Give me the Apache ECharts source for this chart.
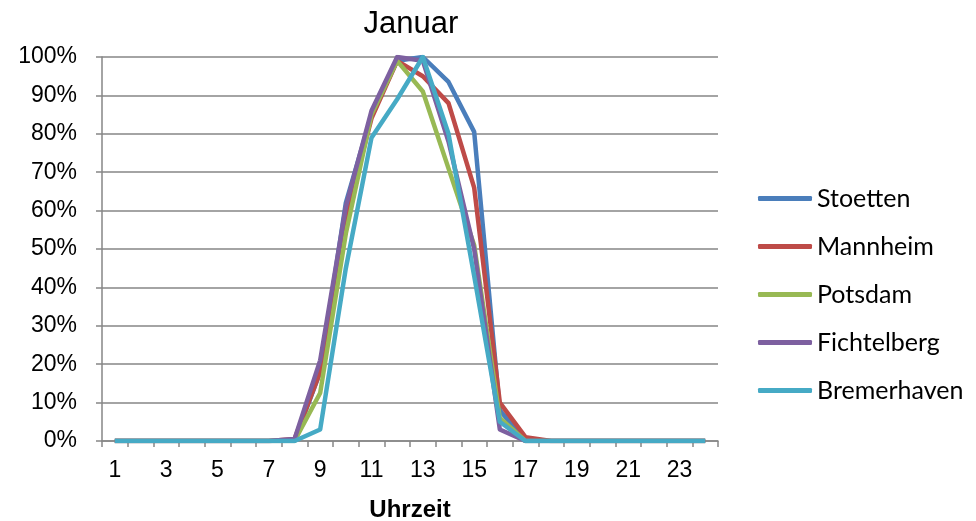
<!DOCTYPE html>
<html>
<head>
<meta charset="utf-8">
<script src="https://cdn.jsdelivr.net/npm/echarts@6/dist/echarts.min.js"></script>
<style>
html,body{margin:0;padding:0;background:#fff;}
#c{width:976px;height:521px;}
</style>
</head>
<body>
<div id="c"></div>
<script>
const hours = ['1','2','3','4','5','6','7','8','9','10','11','12','13','14','15','16','17','18','19','20','21','22','23','24'];
const stoetten    = [0,0,0,0,0,0,0,0,18,62,85,99,100,93.5,80.5,8,0,0,0,0,0,0,0,0];
const mannheim    = [0,0,0,0,0,0,0,0.5,18,58,84,99,95,88,66,10,1,0,0,0,0,0,0,0];
const potsdam     = [0,0,0,0,0,0,0,0,12.5,54,85,99,91,71,51,6,0,0,0,0,0,0,0,0];
const fichtelberg = [0,0,0,0,0,0,0,0.5,21,61,86,100,99,78,50,3,0,0,0,0,0,0,0,0];
const bremerhaven = [0,0,0,0,0,0,0,0,3,45,79,89,100,80,43,5,0,0,0,0,0,0,0,0];
const seriesNames = ['Stoetten','Mannheim','Potsdam','Fichtelberg','Bremerhaven'];
const seriesData = [stoetten, mannheim, potsdam, fichtelberg, bremerhaven];
const colors = ['#4A7EBB','#BE4B48','#98B954','#7D60A0','#46AAC5'];

const chart = echarts.init(document.getElementById('c'), null, {renderer:'canvas'});
chart.setOption({
  animation:false,
  backgroundColor:'#ffffff',
  color: colors,
  title:{
    text:'Januar', left:406, textAlign:'center', top:4,
    textStyle:{fontFamily:'Liberation Sans, Arial, sans-serif', fontSize:31, fontWeight:'normal', color:'#000'}
  },
  legend:{
    orient:'vertical', left:758, top:186, padding:0,
    icon:'roundRect', itemWidth:54, itemHeight:5, itemGap:23, itemTextGap:6,
    data: seriesNames,
    textStyle:{fontFamily:'Lato, sans-serif', fontSize:25, color:'#000', lineHeight:22, height:22}
  },
  grid:{left:102, width:616, top:57, height:384, containLabel:false, outerBoundsMode:'none'},
  xAxis:{
    type:'category', data:hours, boundaryGap:true,
    name:'Uhrzeit', nameLocation:'middle', nameGap:57,
    nameTextStyle:{fontFamily:'Liberation Sans, Arial, sans-serif', fontSize:24, fontWeight:'bold', color:'#000'},
    axisLine:{lineStyle:{color:'#868686', width:1.5}},
    axisTick:{show:true, interval:0, length:6, lineStyle:{color:'#868686', width:1.5}},
    axisLabel:{interval:1, margin:18, fontFamily:'Liberation Sans, Arial, sans-serif', fontSize:23, color:'#000'},
    splitLine:{show:false}
  },
  yAxis:{
    type:'value', min:0, max:100, interval:10,
    axisLine:{show:true, lineStyle:{color:'#868686', width:1.5}},
    axisTick:{show:true, length:6, lineStyle:{color:'#868686', width:1.5}},
    axisLabel:{formatter:'{value}%', margin:25, fontFamily:'Liberation Sans, Arial, sans-serif', fontSize:23, color:'#000'},
    splitLine:{show:true, lineStyle:{color:'#868686', width:1.5}}
  },
  series: seriesNames.map((n,i)=>({
    name:n, type:'line', data:seriesData[i], showSymbol:false, symbol:'none',
    lineStyle:{width:4.5, color:colors[i], join:'round'},
    itemStyle:{color:colors[i]},
    z: 2+i
  }))
});
</script>
</body>
</html>
